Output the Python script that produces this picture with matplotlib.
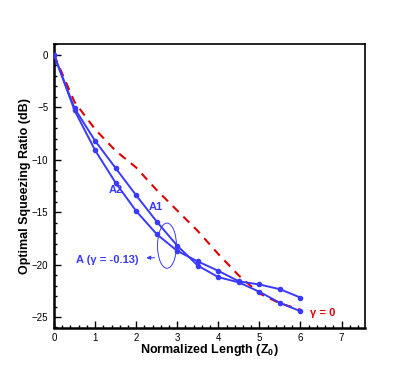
import matplotlib
matplotlib.use("Agg")
import matplotlib.pyplot as plt
from matplotlib.patches import Ellipse
from matplotlib.ticker import MultipleLocator

plt.rcParams['font.family'] = ['Liberation Sans', 'DejaVu Sans']

# data
z = [0, 0.5, 1, 1.5, 2, 2.5, 3, 3.5, 4, 4.5, 5, 5.5, 6]
a1 = [0, -5.1, -8.2, -10.8, -13.4, -15.9, -18.2, -20.1, -21.2, -21.7, -22.6, -23.65, -24.45]
a2 = [0, -5.3, -9.1, -12.2, -14.9, -17.1, -18.7, -19.7, -20.6, -21.6, -21.9, -22.35, -23.15]
g0 = [0, -4.5, -7.1, -9.15, -10.75, -12.9, -14.85, -16.8, -19.0, -21.05, -22.75, -23.7, -24.3]

blue = '#3a3aff'
red = '#dd0000'

fig = plt.figure(figsize=(4.15, 3.69), dpi=100)
ax = fig.add_axes([54/415, 1-327.5/369, (365-54)/415, (327.5-44.3)/369])

ax.plot(z, g0, color=red, lw=1.5, dashes=(4, 3.2), zorder=2)
ax.plot(z, a1, color=blue, lw=1.4, marker='o', ms=3, zorder=3)
ax.plot(z, a2, color=blue, lw=1.4, marker='o', ms=3, zorder=3)

ax.set_xlim(0, 7.57)
ax.set_ylim(-26, 1)
ax.xaxis.set_major_locator(MultipleLocator(1))
ax.xaxis.set_minor_locator(MultipleLocator(0.2))
ax.yaxis.set_major_locator(MultipleLocator(5))
ax.yaxis.set_minor_locator(MultipleLocator(1))
ax.tick_params(which='both', direction='in', top=False, right=False, labelsize=7, width=1)
ax.tick_params(which='major', length=5)
ax.tick_params(which='minor', length=2.5)
ax.tick_params(axis='x', pad=4)
ax.tick_params(axis='y', pad=4)
for s in ['left', 'bottom']:
    ax.spines[s].set_linewidth(1.8)
for s in ['top', 'right']:
    ax.spines[s].set_linewidth(1.2)

ax.set_xlabel('Normalized Length (Z$_\\mathregular{0}$)', fontsize=9, fontweight='bold', labelpad=-1)
ax.set_ylabel('Optimal Squeezing Ratio (dB)', fontsize=9, fontweight='bold', labelpad=1)

ax.text(1.51, -12.9, 'A2', color=blue, fontsize=8, fontweight='bold', ha='center', va='center')
ax.text(2.48, -14.5, 'A1', color=blue, fontsize=8, fontweight='bold', ha='center', va='center')
ax.text(6.55, -24.6, 'γ = 0', color=red, fontsize=8, fontweight='bold', ha='center', va='center')
ax.text(2.05, -19.6, 'A (γ = -0.13)', color=blue, fontsize=8, fontweight='bold', ha='right', va='center')

ell = Ellipse((2.75, -18.2), 0.46, 4.3, angle=0, fill=False, edgecolor=blue, lw=0.7)
ax.add_patch(ell)
ax.annotate('', xy=(2.18, -19.35), xytext=(2.52, -19.35),
            arrowprops=dict(arrowstyle='-|>', color=blue, lw=0.7, mutation_scale=6))

fig.savefig('out.png', dpi=100)
